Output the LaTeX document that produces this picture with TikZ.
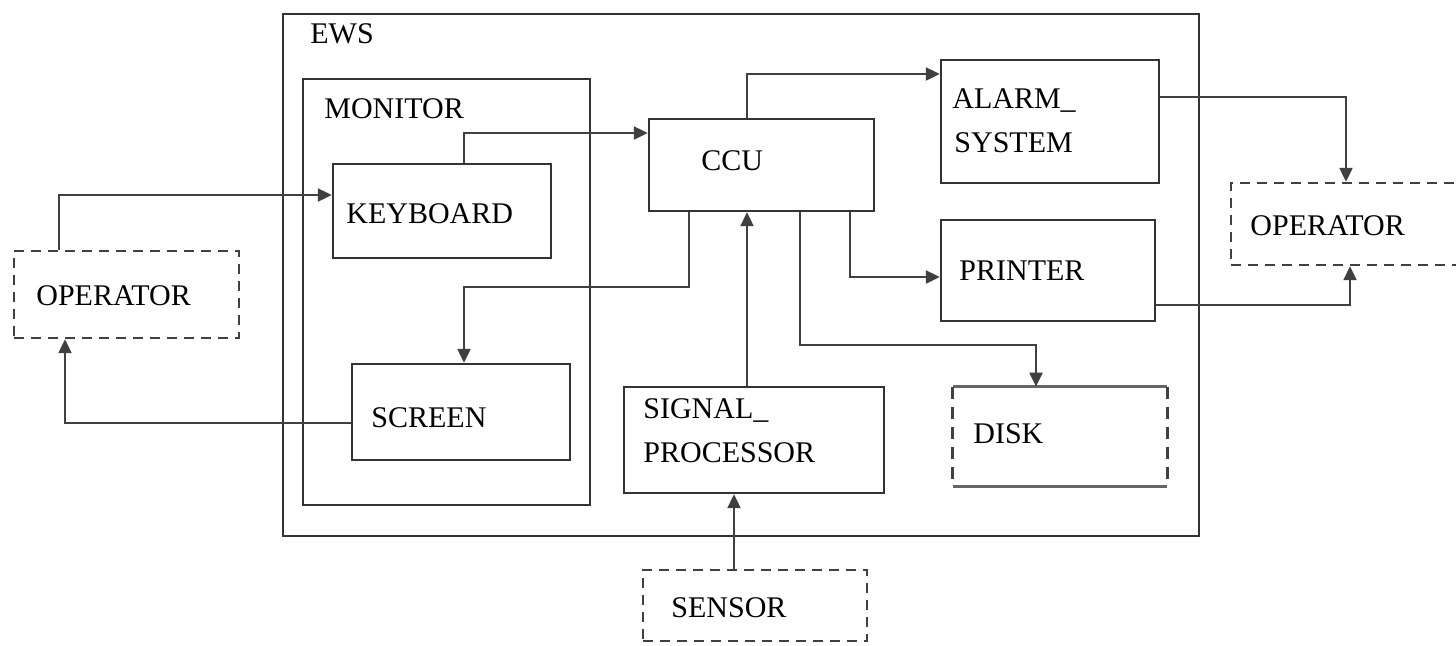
\documentclass[tikz,border=0pt]{standalone}
\usepackage{fontspec}
\setmainfont{Liberation Serif}
\usetikzlibrary{arrows.meta,fit}
\begin{document}
\begin{tikzpicture}[x=0.5pt,y=-0.5pt,
  blk/.style={draw=black!80,line width=1.2pt,inner sep=0pt},
  dblk/.style={draw=black!75,line width=1.2pt,dash pattern=on 5pt off 3.5pt,inner sep=0pt},
  lbl/.style={anchor=base west,inner sep=0pt,font=\fontsize{15pt}{18pt}\selectfont},
  conn/.style={draw=black!75,line width=1.1pt,-{Triangle[length=7pt,width=6.5pt]}}]
\useasboundingbox[fill=white] (0,0) rectangle (1456,645);
% boxes
\node[blk,fit={(283,14)(1199,536)}] (ews) {};
\node[blk,fit={(303,79)(590,505)}] (mon) {};
\node[blk,fit={(333,164)(551,258)}] (kb) {};
\node[blk,fit={(352,364)(570,460)}] (scr) {};
\node[blk,fit={(649,119)(874,211)}] (ccu) {};
\node[blk,fit={(941,60)(1159,183)}] (alarm) {};
\node[blk,fit={(941,220)(1155,321)}] (prn) {};
\node[blk,fit={(624,387)(884,493)}] (sig) {};
\node[inner sep=0pt,fit={(953,387)(1167,486)}] (disk) {};
\draw[black!60,line width=1.4pt] (disk.north west) -- (disk.north east);
\draw[black!60,line width=1.4pt] (disk.south west) -- (disk.south east);
\draw[black!75,line width=1.2pt,dash pattern=on 6pt off 4pt] (disk.north west) -- (disk.south west);
\draw[black!75,line width=1.2pt,dash pattern=on 6pt off 4pt] (disk.north east) -- (disk.south east);
\node[dblk,fit={(14,251)(239,338)}] (opL) {};
\node[dblk,fit={(1231,183)(1480,265)}] (opR) {};
\node[dblk,fit={(643,570)(867,641)}] (sen) {};
% labels
\node[lbl] (ewst) at (310,43) {EWS};
\node[lbl] (mont) at (324,118) {MONITOR};
\node[lbl] (kbt) at (346,223) {KEYBOARD};
\node[lbl] (scrt) at (371,427) {SCREEN};
\node[lbl] (ccut) at (701,170) {CCU};
\node[lbl] (alt1) at (952,108) {ALARM\_};
\node[lbl] (alt2) at (954,152) {SYSTEM};
\node[lbl] (prnt) at (959,280) {PRINTER};
\node[lbl] (sigt1) at (643,418) {SIGNAL\_};
\node[lbl] (sigt2) at (643,462) {PROCESSOR};
\node[lbl] (diskt) at (973,443) {DISK};
\node[lbl] (opLt) at (36,305) {OPERATOR};
\node[lbl] (opRt) at (1250,235) {OPERATOR};
\node[lbl] (sent) at (671,617) {SENSOR};
% connectors
\draw[conn] ([xshift=23pt]opL.north west) |- ([yshift=8pt]kb.west);
\draw[conn] ([xshift=11pt]kb.north) |- ([yshift=16pt]ccu.west);
\draw[conn] ([xshift=20.5pt]ccu.south west) -- ++(0pt,-37.5pt) -| ([xshift=1.5pt]scr.north);
\draw[conn] ([yshift=-5.5pt]scr.west) -| ([xshift=-30.75pt]opL.south);
\draw[conn] ([xshift=-7.25pt]ccu.north) |- ([yshift=23.75pt]alarm.west);
\draw[conn] ([xshift=44.25pt]ccu.south) |- ([yshift=-3.25pt]prn.west);
\draw[conn] ([xshift=19.25pt]ccu.south) -- ++(0pt,-66.5pt) -| ([xshift=-12pt]disk.north);
\draw[conn] ([xshift=-3.5pt]sig.north) -- ([xshift=-3.5pt]sig.north |- ccu.south);
\draw[conn] ([xshift=-10.5pt]sen.north) -- ([xshift=-10.5pt]sen.north |- sig.south);
\draw[conn] ([yshift=12.25pt]alarm.east) -| ([xshift=-4.75pt]opR.north);
\draw[conn] ([yshift=-17.25pt]prn.east) -| ([xshift=-2.75pt]opR.south);
\end{tikzpicture}
\end{document}
